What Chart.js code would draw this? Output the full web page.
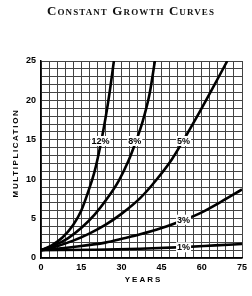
<!DOCTYPE html>
<html>
<head>
<meta charset="utf-8">
<script src="https://cdn.jsdelivr.net/npm/chart.js@4"></script>
<style>
  html, body { margin: 0; padding: 0; background: #fff; }
  #wrap { position: relative; width: 252px; height: 296px; }
  #title {
    position: absolute; top: 3px; left: 5px; width: 252px;
    text-align: center;
    font-family: 'Liberation Serif', serif; font-weight: bold; font-size: 13px;
    font-variant: small-caps; letter-spacing: 1.1px; color: #111;
  }
</style>
</head>
<body>
<div id="wrap">
  <div id="title">Constant Growth Curves</div>
  <canvas id="myChart" width="252" height="296"></canvas>
</div>
<script>
// --- dati (anni, moltiplicazione) ---
const rates = ['12%', '8%', '5%', '3%', '1%'];

const years12 = [0, 4, 8, 12, 15, 18, 20, 22, 24, 25.6, 27.2];
const mult12  = [1, 1.6, 2.6, 4.2, 6.0, 8.8, 11, 14, 17.6, 21, 25];

const years8 = [0, 5, 10, 15, 20, 25, 29, 32.6, 35, 38, 40.5, 42.5];
const mult8  = [1, 1.6, 2.5, 3.8, 5.5, 7.7, 9.8, 12.3, 14.4, 17.4, 20.8, 25];

const years5 = [0, 6, 12, 18, 24, 30, 37, 43, 48.8, 53, 58, 63.5, 69.5];
const mult5  = [1, 1.5, 2.2, 3.1, 4.2, 5.6, 7.6, 9.9, 12.5, 14.85, 17.8, 21.2, 25];

const years3 = [0, 12, 24, 31, 37, 45, 53, 60, 67, 75];
const mult3  = [1, 1.4, 1.95, 2.5, 3.0, 3.8, 4.8, 5.8, 7.1, 8.7];

const years1 = [0, 20, 37, 53, 65, 75];
const mult1  = [1, 1.05, 1.18, 1.38, 1.6, 1.78];

// posizione delle etichette sulle curve
const labelYears = [22.2, 35, 53.2, 53.2, 53.2];
const labelMult  = [14.85, 14.85, 14.85, 4.86, 1.36];

const xTickLabels = [0, 15, 30, 45, 60, 75];
const yTickLabels = [0, 5, 10, 15, 20, 25];

const toPoints = (xs, ys) => xs.map((x, i) => ({ x, y: ys[i] }));
const series = [
    toPoints(years12, mult12),
    toPoints(years8, mult8),
    toPoints(years5, mult5),
    toPoints(years3, mult3),
    toPoints(years1, mult1)
];

// etichette percentuali con sfondo bianco
const curveLabels = {
    id: 'curveLabels',
    afterDatasetsDraw(chart) {
        const { ctx, scales: { x, y } } = chart;
        ctx.save();
        ctx.font = 'bold 9px "Liberation Sans", Arial, sans-serif';
        ctx.textAlign = 'center';
        ctx.textBaseline = 'middle';
        rates.forEach((lab, i) => {
            const px = x.getPixelForValue(labelYears[i]);
            const py = y.getPixelForValue(labelMult[i]);
            const w = ctx.measureText(lab).width + 2;
            ctx.fillStyle = '#fff';
            ctx.fillRect(px - w / 2, py - 5, w, 10);
            ctx.fillStyle = '#000';
            ctx.fillText(lab, px, py + 0.5);
        });
        ctx.restore();
    }
};

// titoli degli assi con spaziatura tra le lettere
const axisTitles = {
    id: 'axisTitles',
    afterDraw(chart) {
        const { ctx, chartArea } = chart;
        ctx.save();
        ctx.fillStyle = '#000';
        ctx.font = 'bold 8px "Liberation Sans", Arial, sans-serif';
        ctx.textAlign = 'center';
        ctx.textBaseline = 'middle';
        ctx.letterSpacing = '2px';
        ctx.fillText('YEARS', (chartArea.left + chartArea.right) / 2 + 2, 280);
        ctx.letterSpacing = '1.6px';
        ctx.translate(16, 154);
        ctx.rotate(-Math.PI / 2);
        ctx.fillText('MULTIPLICATION', 1, 0);
        ctx.restore();
    }
};

const ctx = document.getElementById('myChart').getContext('2d');

new Chart(ctx, {
    type: 'line',
    data: {
        datasets: series.map((pts, i) => ({
            label: rates[i],
            data: pts,
            borderColor: '#000',
            borderWidth: 2.6,
            pointRadius: 0,
            fill: false,
            cubicInterpolationMode: 'monotone'
        }))
    },
    options: {
        responsive: false,
        animation: false,
        events: [],
        layout: { padding: { top: 61, right: 10, left: 0, bottom: 0 } },
        plugins: {
            legend: { display: false },
            tooltip: { enabled: false },
            title: { display: false }
        },
        scales: {
            x: {
                type: 'linear',
                min: 0, max: 75,
                afterFit: s => { s.height = 38; },
                grid: { color: '#444', lineWidth: 1, drawTicks: false },
                border: { color: '#000', width: 1.5 },
                ticks: {
                    stepSize: 3,
                    autoSkip: false,
                    maxRotation: 0,
                    padding: 4,
                    color: '#000',
                    font: { family: '"Liberation Sans", Arial, sans-serif', size: 9, weight: 'bold' },
                    callback: v => xTickLabels.includes(v) ? v : ''
                }
            },
            y: {
                min: 0, max: 25,
                afterFit: s => { s.width = 41; },
                grid: { color: '#444', lineWidth: 1, drawTicks: false },
                border: { color: '#000', width: 1.5 },
                ticks: {
                    stepSize: 1,
                    autoSkip: false,
                    padding: 5,
                    color: '#000',
                    font: { family: '"Liberation Sans", Arial, sans-serif', size: 9, weight: 'bold' },
                    callback: v => yTickLabels.includes(v) ? v : ''
                }
            }
        }
    },
    plugins: [curveLabels, axisTitles]
});
</script>
</body>
</html>
